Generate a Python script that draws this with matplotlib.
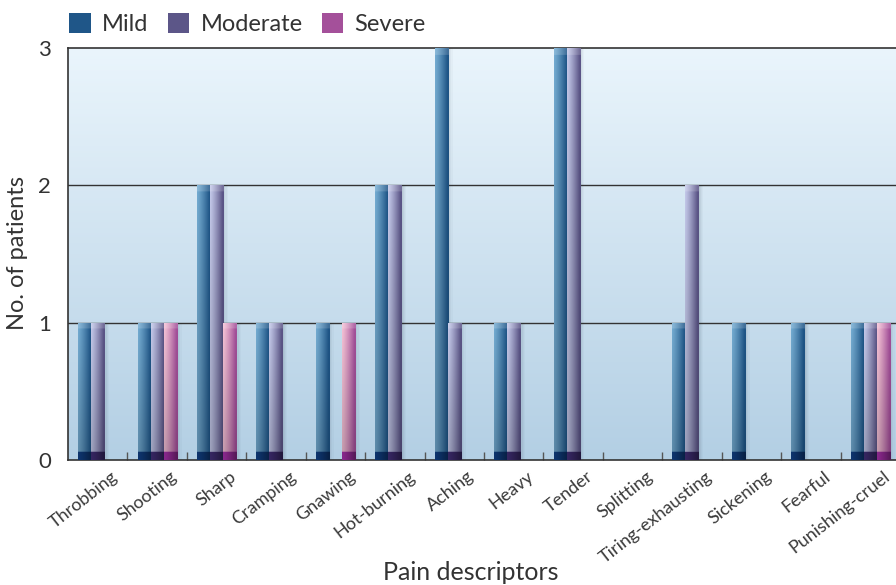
import numpy as np
import matplotlib
matplotlib.use("Agg")
import matplotlib.pyplot as plt
from matplotlib.patches import Patch
from matplotlib.colors import to_rgb
import matplotlib.transforms as mtransforms

categories = ["Throbbing", "Shooting", "Sharp", "Cramping", "Gnawing", "Hot-burning",
              "Aching", "Heavy", "Tender", "Splitting", "Tiring-exhausting",
              "Sickening", "Fearful", "Punishing-cruel"]
mild =     [1, 1, 2, 1, 1, 2, 3, 1, 3, 0, 1, 1, 1, 1]
moderate = [1, 1, 2, 1, 0, 2, 1, 1, 3, 0, 2, 0, 0, 1]
severe =   [0, 1, 1, 0, 1, 0, 0, 0, 0, 0, 0, 0, 0, 1]
series_names = ["Mild", "Moderate", "Severe"]
yticks = [0, 1, 2, 3]

# (light, dark, bottom) colours per series
palette = {
    "Mild": ("#74acd2", "#1f5688", "#0b2a58"),
    "Moderate": ("#c4c9ea", "#5c5688", "#2b1f4e"),
    "Severe": ("#f5c2d6", "#a4509a", "#6e2070"),
}

plt.rcParams['font.family'] = ['Lato', 'DejaVu Sans']
TXT = "#333333"

fig = plt.figure(figsize=(8.96, 5.85), dpi=100)
ax = fig.add_axes([68/896, 1-460/585, 832/896, 412/585])

n = len(categories)
x = np.arange(n)
bw = 0.22

# background gradient
bg_top = np.array(to_rgb("#eaf5fc"))
bg_bot = np.array(to_rgb("#b3cfe4"))
t = np.linspace(0, 1, 256)[:, None, None]
bg = bg_top * (1 - t) + bg_bot * t
bg = np.repeat(bg, 2, axis=1)
ax.imshow(bg, extent=[0, 1, 0, 1], transform=ax.transAxes, aspect='auto', zorder=0)

for y in [1, 2]:
    ax.axhline(y, color="#333333", lw=1.0, zorder=1)

px_per_unit = 412 / 3.0

def gradient_img(light, dark, bottom, h):
    light = np.array(to_rgb(light)); dark = np.array(to_rgb(dark)); bottom = np.array(to_rgb(bottom))
    W, H = 40, 300
    u = np.linspace(0, 1, W)
    s = np.clip(u * 1.1, 0, 1) ** 1.2
    row = light[None, :] * (1 - s[:, None]) + dark[None, :] * s[:, None]
    v = np.linspace(0, 1, H)[:, None, None]  # 0 top, 1 bottom
    img = row[None, :, :] * (1 - 0.2 * v)
    band = 8 / (px_per_unit * h)
    mask = (v[:, 0, 0] > 1 - band)
    bot_row = bottom[None, :] * (1.25 - 0.45 * s[:, None])
    img[mask] = bot_row[None, :, :]
    top = 6 / (px_per_unit * h)
    tmask = v[:, 0, 0] < top
    img[tmask] = np.clip(img[tmask] * 0.85 + 0.15, 0, 1)
    return np.clip(img, 0, 1)

all_vals = [mild, moderate, severe]
for i, (name, vals) in enumerate(zip(series_names, all_vals)):
    offs = (i - 1) * bw
    bars = ax.bar(x + offs, vals, width=bw, color=palette[name][1], linewidth=0, zorder=2)
    for b, v in zip(bars, vals):
        if v <= 0:
            continue
        x0 = b.get_x(); w = b.get_width()
        for k, a in enumerate([0.06, 0.05, 0.04, 0.03]):
            ax.add_patch(plt.Rectangle((x0 + w, 0), 0.02 * (k + 1), v, color="#304050",
                                       alpha=a, lw=0, zorder=1.5))
        img = gradient_img(*palette[name], v)
        im = ax.imshow(img, extent=[x0, x0 + w, 0, v], aspect='auto', zorder=3)
        im.set_clip_path(b)

ax.set_xlim(-0.5, n - 0.5)
ax.set_ylim(0, 3)

for sp in ["left", "bottom", "top"]:
    ax.spines[sp].set_color("#333333")
    ax.spines[sp].set_linewidth(1.2)
ax.spines["right"].set_visible(False)

ax.set_xticks(np.arange(n - 1) + 0.5)
ax.set_xticklabels([])
ax.tick_params(axis='x', which='major', direction='in', length=6, color="#555555", width=1)
ax.set_xticks(x, minor=True)
ax.set_xticklabels(categories, minor=True, rotation=38, ha='right', rotation_mode='anchor',
                   fontsize=13, color="#3a3a3a")
ax.tick_params(axis='x', which='minor', length=0, pad=6)
offset = mtransforms.ScaledTranslation(13/100, 0, fig.dpi_scale_trans)
for lbl in ax.xaxis.get_minorticklabels():
    lbl.set_transform(lbl.get_transform() + offset)

ax.set_yticks(yticks)
ax.set_yticklabels([str(v) for v in yticks], fontsize=16, color=TXT)
ax.tick_params(axis='y', length=0, pad=12)

fig.text(18/896, 1 - 253/585, "No. of patients", rotation=90, ha='center', va='center',
         fontsize=17, color=TXT)
fig.text(471/896, 1 - 572/585, "Pain descriptors", ha='center', va='center',
         fontsize=18, color=TXT)

handles = [Patch(facecolor=palette[nm][1], edgecolor='none', label=nm) for nm in series_names]
fig.legend(handles=handles, loc='upper left', bbox_to_anchor=(48/896, 1 + 8/585), ncol=3,
           frameon=False, handlelength=0.9, handleheight=0.9, handletextpad=0.5,
           columnspacing=0.8, labelcolor=TXT, prop={'size': 17})

fig.savefig("out.png", dpi=100)
